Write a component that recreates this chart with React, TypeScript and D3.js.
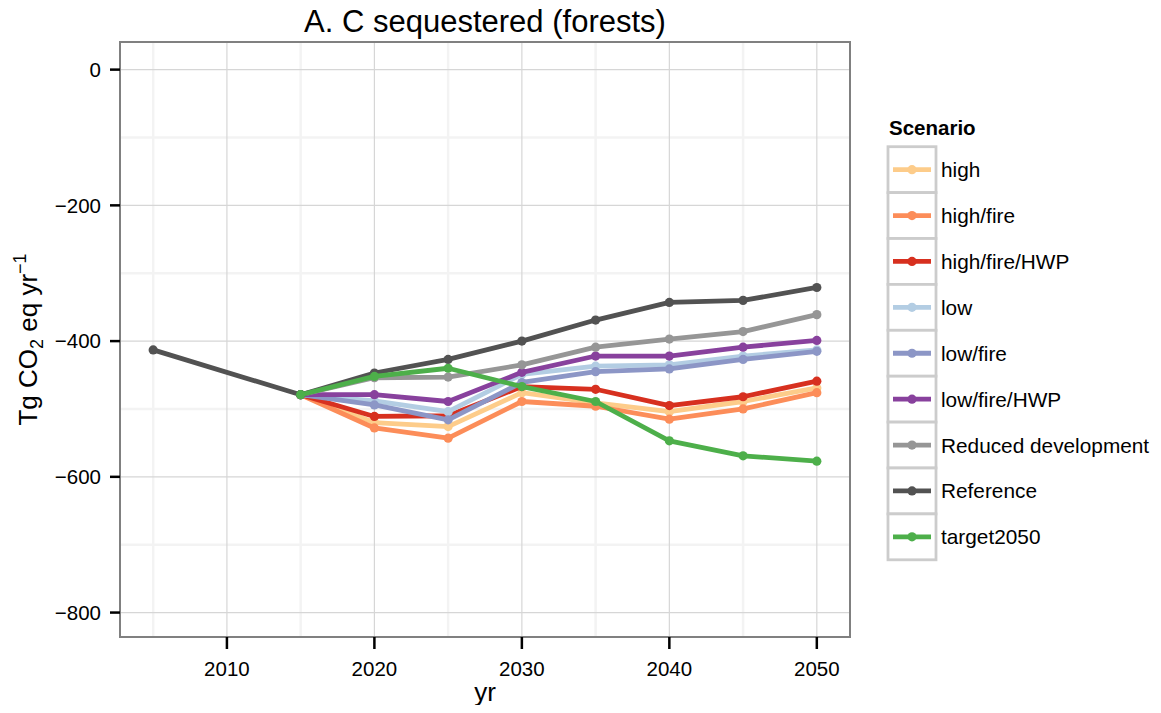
import React from "react";
import * as d3 from "d3";

// years on the x axis (2005 only exists for Reference)
const years = [2005, 2015, 2020, 2025, 2030, 2035, 2040, 2045, 2050];

const scenarios = [
  "high",
  "high/fire",
  "high/fire/HWP",
  "low",
  "low/fire",
  "low/fire/HWP",
  "Reduced development",
  "Reference",
  "target2050",
];

const scenarioColors = [
  "#fdcc8a",
  "#fc8d59",
  "#d7301f",
  "#b3cde3",
  "#8c96c6",
  "#88419d",
  "#969696",
  "#525252",
  "#4daf4a",
];

// Tg CO2 eq / yr
const high = [null, -479, -520, -526, -476, -491, -504, -489, -469];
const highFire = [null, -479, -528, -543, -489, -496, -515, -500, -476];
const highFireHWP = [null, -479, -511, -510, -467, -471, -495, -482, -459];
const low = [null, -479, -488, -504, -449, -437, -435, -422, -413];
const lowFire = [null, -479, -494, -516, -461, -445, -441, -427, -415];
const lowFireHWP = [null, -479, -479, -489, -446, -422, -422, -409, -399];
const reducedDev = [null, -479, -454, -453, -435, -409, -397, -386, -361];
const reference = [-413, -479, -447, -427, -400, -369, -343, -340, -321];
const target2050 = [null, -479, -452, -440, -467, -489, -547, -569, -577];

const seriesValues = [high, highFire, highFireHWP, low, lowFire, lowFireHWP, reducedDev, reference, target2050];

const xTicks = [2010, 2020, 2030, 2040, 2050];
const xMinor = [2005, 2015, 2025, 2035, 2045];
const yTicks = [0, -200, -400, -600, -800];
const yMinor = [-100, -300, -500, -700];

const FONT = "'Liberation Sans', Arial, Helvetica, sans-serif";

export default function App() {
  const width = 1161;
  const height = 713;
  const panel = { left: 120, right: 850, top: 42, bottom: 637 };

  const x = d3.scaleLinear().domain([2002.75, 2052.25]).range([panel.left, panel.right]);
  const y = d3.scaleLinear().domain([-836, 40.7]).range([panel.bottom, panel.top]);

  const line = d3
    .line<[number, number | null]>()
    .defined((d) => d[1] !== null)
    .x((d) => x(d[0]))
    .y((d) => y(d[1] as number));

  const fmt = (v: number) => (v < 0 ? "\u2212" + Math.abs(v) : String(v));

  // legend geometry
  const legX = 888;
  const legTop = 146.7;
  const keyH = 45.9;
  const keyW = 48;
  const lw = 4.8;
  const pr = 4.6;

  return (
    <svg width={width} height={height} style={{ display: "block", margin: -8 }} fontFamily={FONT}>
      <rect width={width} height={height} fill="#ffffff" />

      {/* title */}
      <text x={(panel.left + panel.right) / 2} y={32} textAnchor="middle" fontSize={31} fill="#000">
        A. C sequestered (forests)
      </text>

      {/* minor grid */}
      {xMinor.map((t) => (
        <line key={"xm" + t} x1={x(t)} x2={x(t)} y1={panel.top} y2={panel.bottom} stroke="#f3f3f3" strokeWidth={2.5} />
      ))}
      {yMinor.map((t) => (
        <line key={"ym" + t} x1={panel.left} x2={panel.right} y1={y(t)} y2={y(t)} stroke="#f3f3f3" strokeWidth={2.5} />
      ))}
      {/* major grid */}
      {xTicks.map((t) => (
        <line key={"xg" + t} x1={x(t)} x2={x(t)} y1={panel.top} y2={panel.bottom} stroke="#d6d6d6" strokeWidth={1.2} />
      ))}
      {yTicks.map((t) => (
        <line key={"yg" + t} x1={panel.left} x2={panel.right} y1={y(t)} y2={y(t)} stroke="#d6d6d6" strokeWidth={1.2} />
      ))}

      {/* series */}
      {seriesValues.map((vals, i) => {
        const pts = years.map((yr, j) => [yr, vals[j]] as [number, number | null]);
        return (
          <g key={scenarios[i]}>
            <path d={line(pts) || ""} fill="none" stroke={scenarioColors[i]} strokeWidth={lw} strokeLinejoin="round" />
            {pts
              .filter((p) => p[1] !== null)
              .map((p) => (
                <circle key={p[0]} cx={x(p[0])} cy={y(p[1] as number)} r={pr} fill={scenarioColors[i]} />
              ))}
          </g>
        );
      })}

      {/* panel border */}
      <rect
        x={panel.left}
        y={panel.top}
        width={panel.right - panel.left}
        height={panel.bottom - panel.top}
        fill="none"
        stroke="#808080"
        strokeWidth={2}
      />

      {/* y axis */}
      {yTicks.map((t) => (
        <g key={"yt" + t}>
          <line x1={panel.left - 10} x2={panel.left} y1={y(t)} y2={y(t)} stroke="#000" strokeWidth={2.5} />
          <text x={panel.left - 19} y={y(t)} dy="0.35em" textAnchor="end" fontSize={20.5} fill="#000">
            {fmt(t)}
          </text>
        </g>
      ))}

      {/* x axis */}
      {xTicks.map((t) => (
        <g key={"xt" + t}>
          <line x1={x(t)} x2={x(t)} y1={panel.bottom} y2={panel.bottom + 12} stroke="#000" strokeWidth={2.5} />
          <text x={x(t)} y={676} textAnchor="middle" fontSize={20.5} fill="#000">
            {t}
          </text>
        </g>
      ))}

      {/* axis titles */}
      <text x={(panel.left + panel.right) / 2} y={701} textAnchor="middle" fontSize={26} fill="#000">
        yr
      </text>
      <text
        transform={`translate(37,${(panel.top + panel.bottom) / 2}) rotate(-90)`}
        textAnchor="middle"
        fontSize={26}
        fill="#000"
      >
        Tg CO
        <tspan fontSize={18} dy={6}>2</tspan>
        <tspan dy={-6}> eq yr</tspan>
        <tspan fontSize={18} dy={-11}>{"\u22121"}</tspan>
      </text>

      {/* legend */}
      <text x={889} y={135} fontSize={20.5} fontWeight="bold" fill="#000">
        Scenario
      </text>
      {scenarios.map((s, i) => {
        const top = legTop + i * keyH;
        const cy = top + keyH / 2;
        return (
          <g key={"leg" + s}>
            <rect x={legX} y={top} width={keyW} height={keyH} fill="#ffffff" stroke="#cccccc" strokeWidth={2.8} />
            <line x1={893} x2={931} y1={cy} y2={cy} stroke={scenarioColors[i]} strokeWidth={lw} />
            <circle cx={912} cy={cy} r={pr} fill={scenarioColors[i]} />
            <text x={941} y={cy} dy="0.36em" fontSize={20.8} fill="#000">
              {s}
            </text>
          </g>
        );
      })}
    </svg>
  );
}
